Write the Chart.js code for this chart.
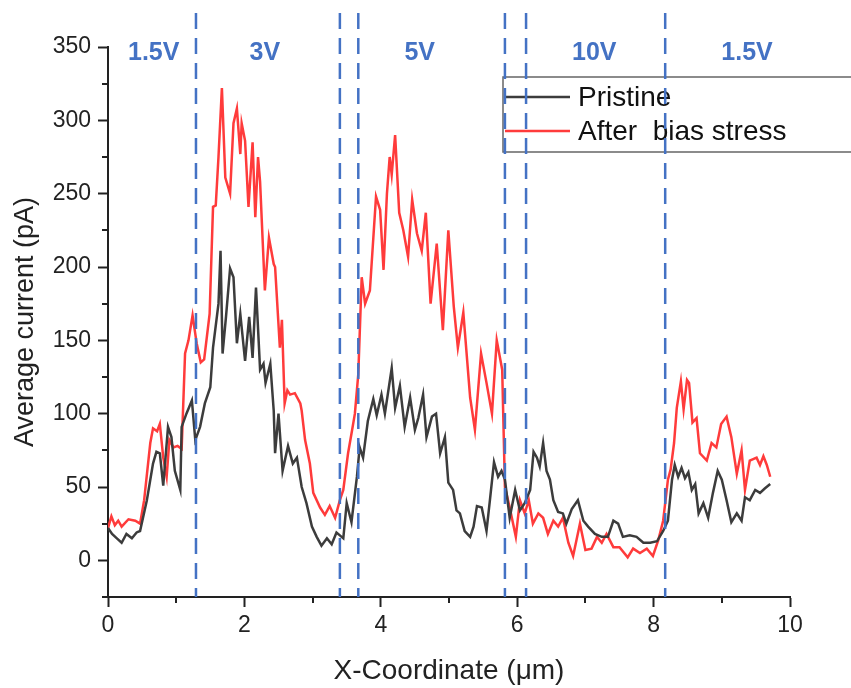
<!DOCTYPE html>
<html>
<head>
<meta charset="utf-8">
<script src="https://cdn.jsdelivr.net/npm/chart.js@4.4.1/dist/chart.umd.min.js"></script>
<style>
  html, body { margin: 0; padding: 0; background: #fff; }
  #wrap { width: 851px; height: 688px; position: relative; }
</style>
</head>
<body>
<div id="wrap"><canvas id="chart"></canvas></div>
<script>
// Pristine trace
const pristineX = [0.00, 0.06, 0.13, 0.20, 0.27, 0.35, 0.42, 0.47, 0.57, 0.66, 0.71, 0.76, 0.81, 0.88, 0.93, 0.98,
  1.06, 1.08, 1.15, 1.23, 1.28, 1.35, 1.42, 1.50, 1.54, 1.62, 1.65, 1.68, 1.73, 1.79, 1.84, 1.89, 1.94,
  2.01, 2.07, 2.12, 2.17, 2.23, 2.28, 2.31, 2.38, 2.43, 2.45, 2.50, 2.56, 2.64, 2.71, 2.77, 2.84, 2.91, 2.99,
  3.06, 3.13, 3.21, 3.28, 3.35, 3.40, 3.45, 3.50, 3.57, 3.65, 3.69, 3.74, 3.81, 3.89, 3.94,
  4.01, 4.06, 4.16, 4.21, 4.28, 4.35, 4.43, 4.50, 4.55, 4.62, 4.67, 4.75, 4.81, 4.87, 4.94, 4.99,
  5.06, 5.11, 5.16, 5.23, 5.31, 5.36, 5.41, 5.48, 5.55, 5.60, 5.66, 5.72, 5.77, 5.82, 5.89, 5.97,
  6.04, 6.11, 6.19, 6.24, 6.29, 6.33, 6.38, 6.43, 6.48, 6.53, 6.60, 6.67, 6.72, 6.80, 6.89, 6.97,
  7.04, 7.14, 7.24, 7.33, 7.41, 7.48, 7.55, 7.65, 7.75, 7.85, 7.95,
  8.05, 8.14, 8.21, 8.27, 8.31, 8.36, 8.41, 8.46, 8.51, 8.56, 8.61, 8.66, 8.73, 8.80, 8.87, 8.94,
  9.00, 9.07, 9.14, 9.22, 9.29, 9.34, 9.41, 9.49, 9.56, 9.63, 9.71];
const pristineY = [22, 18, 15, 12, 18, 15, 19, 20, 41, 66, 74, 73, 51, 91, 84, 61,
  48, 91, 100, 109, 82, 91, 107, 118, 145, 175, 211, 141, 166, 199, 193, 148, 168,
  136, 166, 138, 186, 130, 134, 121, 134, 102, 73, 100, 61, 78, 66, 70, 50, 39, 23,
  16, 10, 15, 11, 19, 17, 15, 39, 26, 57, 77, 70, 95, 110, 99,
  113, 100, 131, 104, 119, 91, 111, 89, 97, 113, 84, 98, 100, 73, 84, 53,
  48, 34, 32, 20, 16, 23, 37, 36, 20, 41, 67, 57, 61, 55, 29, 48,
  34, 39, 48, 74, 70, 64, 80, 61, 55, 41, 33, 32, 25, 35, 41, 27,
  23, 18, 16, 16, 27, 25, 16, 17, 16, 12, 12,
  13, 20, 27, 55, 65, 57, 63, 56, 60, 48, 52, 32, 39, 29, 46, 61,
  55, 41, 26, 32, 27, 43, 41, 48, 46, 49, 52];

// After bias stress trace
const stressX = [0.00, 0.05, 0.10, 0.15, 0.20, 0.30, 0.40, 0.47, 0.53, 0.62, 0.66, 0.72, 0.76, 0.81, 0.86, 0.90, 0.96,
  1.02, 1.08, 1.13, 1.18, 1.24, 1.30, 1.36, 1.41, 1.49, 1.54, 1.58, 1.62, 1.67, 1.72, 1.79, 1.84, 1.89, 1.94, 1.96,
  2.01, 2.06, 2.12, 2.16, 2.20, 2.23, 2.30, 2.36, 2.43, 2.45, 2.52, 2.55, 2.59, 2.63, 2.67, 2.74, 2.82, 2.84, 2.89, 2.96,
  3.01, 3.11, 3.18, 3.25, 3.33, 3.40, 3.45, 3.52, 3.58, 3.62, 3.67, 3.72, 3.77, 3.84, 3.93, 3.99,
  4.04, 4.09, 4.13, 4.16, 4.21, 4.27, 4.33, 4.40, 4.46, 4.53, 4.60, 4.66, 4.73, 4.82, 4.91, 4.99,
  5.07, 5.13, 5.21, 5.31, 5.38, 5.47, 5.55, 5.63, 5.70, 5.78, 5.82, 5.89, 5.98,
  6.04, 6.11, 6.17, 6.23, 6.31, 6.38, 6.45, 6.53, 6.60, 6.67, 6.75, 6.82, 6.92,
  7.00, 7.09, 7.17, 7.24, 7.31, 7.41, 7.50, 7.62, 7.70, 7.80, 7.90, 7.99,
  8.07, 8.14, 8.21, 8.25, 8.30, 8.34, 8.40, 8.44, 8.49, 8.52, 8.57, 8.63, 8.68, 8.78, 8.85, 8.92, 8.99,
  9.07, 9.14, 9.22, 9.29, 9.34, 9.41, 9.51, 9.56, 9.61, 9.66, 9.71];
const stressY = [22, 30, 24, 27, 23, 28, 27, 25, 41, 80, 90, 88, 93, 70, 57, 82, 77,
  78, 76, 141, 150, 167, 148, 135, 137, 168, 241, 242, 275, 322, 261, 250, 298, 308, 277, 298,
  286, 241, 285, 234, 275, 258, 184, 220, 202, 200, 145, 164, 107, 116, 113, 114, 107, 102, 82, 66,
  46, 36, 31, 37, 29, 41, 48, 73, 89, 100, 127, 193, 175, 184, 248, 239,
  198, 250, 275, 263, 290, 237, 225, 207, 246, 223, 211, 237, 175, 216, 157, 225,
  173, 145, 169, 111, 89, 141, 121, 100, 150, 130, 50, 36, 16,
  41, 32, 41, 25, 32, 29, 18, 27, 23, 29, 12, 3, 25,
  7, 8, 16, 12, 18, 9, 9, 2, 8, 5, 8, 3,
  14, 27, 55, 62, 80, 104, 122, 103, 123, 121, 94, 97, 73, 68, 80, 77, 93,
  98, 84, 59, 75, 48, 68, 70, 65, 71, 65, 57];

// bias regions
const boundaryX = [1.29, 3.40, 3.67, 5.82, 6.13, 8.17];
const voltageLabels = ['1.5V', '3V', '5V', '10V', '1.5V'];
const voltageLabelX = [0.67, 2.30, 4.57, 7.13, 9.37];

const yMajor = [0, 50, 100, 150, 200, 250, 300, 350];
const yMinor = [-25, 25, 75, 125, 175, 225, 275, 325];
const xMajor = [0, 2, 4, 6, 8, 10];
const xMinor = [1, 3, 5, 7, 9];

const BLUE = '#4472c4';
const AXIS = '#222';
const FONT = "'Liberation Sans', Arial, sans-serif";

const toPoints = (xs, ys) => xs.map((x, i) => ({ x: x, y: ys[i] }));

// minor ticks, legend, dashed boundaries and voltage labels
const overlayPlugin = {
    id: 'overlay',
    afterDraw(chart) {
        const ctx = chart.ctx;
        const area = chart.chartArea;
        const xs = chart.scales.x;
        const ys = chart.scales.y;

        ctx.save();
        ctx.strokeStyle = AXIS;
        ctx.lineWidth = 2;
        yMinor.forEach(v => {
            const py = Math.round(ys.getPixelForValue(v));
            ctx.beginPath();
            ctx.moveTo(area.left - 6, py);
            ctx.lineTo(area.left, py);
            ctx.stroke();
        });
        xMinor.forEach(v => {
            const px = Math.round(xs.getPixelForValue(v));
            ctx.beginPath();
            ctx.moveTo(px, area.bottom);
            ctx.lineTo(px, area.bottom + 6);
            ctx.stroke();
        });

        // legend box
        const lx = area.left + 395;
        const top = area.top + 30;
        const bottom = area.top + 105;
        ctx.strokeStyle = '#666';
        ctx.lineWidth = 1.5;
        ctx.beginPath();
        ctx.moveTo(chart.width, top);
        ctx.lineTo(lx, top);
        ctx.lineTo(lx, bottom);
        ctx.lineTo(chart.width, bottom);
        ctx.stroke();

        ctx.font = '28px ' + FONT;
        ctx.textBaseline = 'middle';
        ctx.textAlign = 'left';
        chart.data.datasets.forEach((ds, i) => {
            const yy = area.top + 50 + i * 34;
            ctx.strokeStyle = ds.borderColor;
            ctx.lineWidth = 2.5;
            ctx.beginPath();
            ctx.moveTo(lx + 2, yy);
            ctx.lineTo(lx + 67, yy);
            ctx.stroke();
            ctx.fillStyle = '#111';
            ctx.fillText(ds.label, lx + 75, yy + 1);
        });

        // dashed boundaries
        ctx.strokeStyle = BLUE;
        ctx.lineWidth = 2.5;
        ctx.setLineDash([16, 9]);
        boundaryX.forEach(v => {
            const px = xs.getPixelForValue(v);
            ctx.beginPath();
            ctx.moveTo(px, area.top - 34);
            ctx.lineTo(px, area.bottom);
            ctx.stroke();
        });
        ctx.setLineDash([]);

        ctx.fillStyle = BLUE;
        ctx.font = 'bold 25px ' + FONT;
        ctx.textAlign = 'center';
        voltageLabels.forEach((t, i) => {
            ctx.fillText(t, xs.getPixelForValue(voltageLabelX[i]), area.top + 6);
        });
        ctx.restore();
    }
};

const ctx = document.getElementById('chart').getContext('2d');
new Chart(ctx, {
    type: 'line',
    data: {
        datasets: [
            {
                label: 'Pristine',
                data: toPoints(pristineX, pristineY),
                borderColor: '#3c3c3c',
                borderWidth: 2.5,
                pointRadius: 0,
                tension: 0,
            },
            {
                label: 'After  bias stress',
                data: toPoints(stressX, stressY),
                borderColor: '#ff3b3b',
                borderWidth: 2.5,
                pointRadius: 0,
                tension: 0,
            }
        ]
    },
    options: {
        responsive: true,
        maintainAspectRatio: false,
        animation: false,
        layout: { padding: { top: 47, right: 61, left: 0, bottom: 0 } },
        plugins: {
            legend: { display: false },
            tooltip: { enabled: false }
        },
        scales: {
            x: {
                type: 'linear',
                min: 0,
                max: 10,
                afterBuildTicks: s => { s.ticks = xMajor.map(v => ({ value: v })); },
                afterFit: s => { s.height = 91; },
                grid: { drawOnChartArea: false, tickLength: 10, tickWidth: 2, tickColor: AXIS },
                border: { color: AXIS, width: 2 },
                ticks: { color: AXIS, font: { family: FONT, size: 23 }, padding: 5, maxRotation: 0 },
                title: {
                    display: true,
                    text: 'X-Coordinate (\u03bcm)',
                    color: '#222',
                    font: { family: FONT, size: 28 },
                    padding: { bottom: 0, top: 0 }
                }
            },
            y: {
                min: -25,
                max: 350,
                afterBuildTicks: s => { s.ticks = yMajor.map(v => ({ value: v })); },
                afterFit: s => { s.width = 108; },
                grid: { drawOnChartArea: false, tickLength: 10, tickWidth: 2, tickColor: AXIS },
                border: { color: AXIS, width: 2 },
                ticks: { color: AXIS, font: { family: FONT, size: 23 }, padding: 7 },
                title: {
                    display: true,
                    text: 'Average current (pA)',
                    color: '#222',
                    font: { family: FONT, size: 27 },
                    padding: { top: 9, bottom: 0 }
                }
            }
        }
    },
    plugins: [overlayPlugin]
});
</script>
</body>
</html>
